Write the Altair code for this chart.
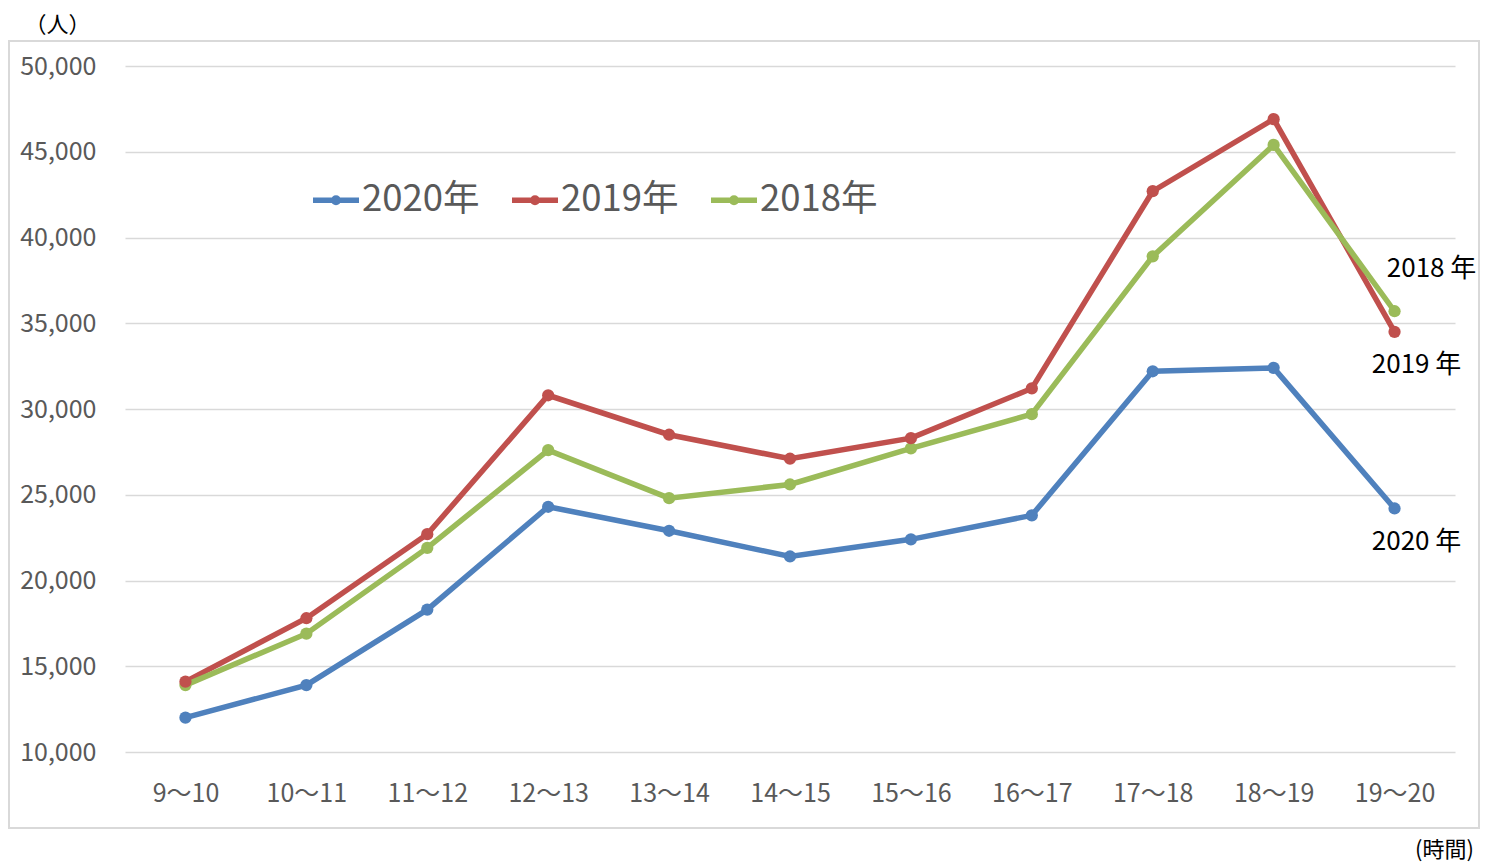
import altair as alt
import pandas as pd

hours = ["9～10", "10～11", "11～12", "12～13", "13～14", "14～15",
         "15～16", "16～17", "17～18", "18～19", "19～20"]
series_names = ["2020年", "2019年", "2018年"]
v2020 = [12000, 13900, 18300, 24300, 22900, 21400, 22400, 23800, 32200, 32400, 24200]
v2019 = [14100, 17800, 22700, 30800, 28500, 27100, 28300, 31200, 42700, 46900, 34500]
v2018 = [13900, 16900, 21900, 27600, 24800, 25600, 27700, 29700, 38900, 45400, 35700]
colors = ["#4F81BD", "#C0504D", "#9BBB59"]
end_labels = ["2020 年", "2019 年", "2018 年"]
y_ticks = [10000, 15000, 20000, 25000, 30000, 35000, 40000, 45000, 50000]

rows = []
for name, vals in zip(series_names, [v2020, v2019, v2018]):
    for h, v in zip(hours, vals):
        rows.append({"hour": h, "series": name, "value": v})
df = pd.DataFrame(rows)

end_df = pd.DataFrame({
    "hour": [hours[-1]] * 3,
    "series": series_names,
    "value": [v2020[-1], v2019[-1], v2018[-1]],
    "label": end_labels,
})

FONT = "Noto Sans CJK JP"

x_scale = alt.Scale(type="point", padding=0.5)
y_scale = alt.Scale(domain=[10000, 50000], nice=False, zero=False)

x_axis = alt.Axis(title="(時間)", titleAngle=0, titleX=1319, titleY=97,
                  titleAlign="center", titleBaseline="middle",
                  titleFont=FONT, titleFontSize=22,
                  titleFontWeight="normal", titleColor="#000000",
                  labelFont=FONT, labelFontSize=25,
                  labelColor="#595959", labelPadding=29, labelAngle=0,
                  domain=False, ticks=False, grid=False)
y_axis = alt.Axis(title="（人）", titleAngle=0, titleX=-68, titleY=-42,
                  titleAlign="center", titleBaseline="middle",
                  titleFont=FONT, titleFontSize=22,
                  titleFontWeight="normal", titleColor="#000000",
                  values=y_ticks, labelExpr="format(datum.value, ',')",
                  labelFont=FONT, labelFontSize=25,
                  labelColor="#595959", labelPadding=29,
                  domain=False, ticks=False, grid=True,
                  gridColor="#D9D9D9", gridWidth=1.3)

x_enc = alt.X("hour:N", sort=hours, scale=x_scale, axis=x_axis)
y_enc = alt.Y("value:Q", scale=y_scale, axis=y_axis)

legend_path = ("M-1,0L1,0 M0.1,0A0.1,0.1 0 1,1 -0.1,0A0.1,0.1 0 1,1 0.1,0")

color_enc = alt.Color("series:N", sort=series_names,
                      scale=alt.Scale(domain=series_names, range=colors),
                      legend=alt.Legend(title=None, orient="none", direction="horizontal",
                                        legendX=185, legendY=108,
                                        symbolType=legend_path, symbolSize=2116,
                                        symbolStrokeWidth=5.5,
                                        labelFont=FONT, labelFontSize=36.5,
                                        labelColor="#595959", labelOffset=0,
                                        columnPadding=21, symbolLimit=0))

frame = alt.Chart(pd.DataFrame({"a": [0]})).mark_rect(
    filled=False, stroke="#D9D9D9", strokeWidth=2, clip=False
).encode(x=alt.value(-116), x2=alt.value(1354), y=alt.value(-25), y2=alt.value(762))

lines = alt.Chart(df).mark_line(
    strokeWidth=5.5, point=alt.OverlayMarkDef(filled=True, size=150)
).encode(x=x_enc, y=y_enc, color=color_enc, order=alt.Order("series:N"))

label_offsets = {"2020年": (22, 34), "2019年": (22, 33), "2018年": (37, -42)}
label_layers = []
for name, lab in zip(series_names, end_labels):
    dx, dy = label_offsets[name]
    label_layers.append(
        alt.Chart(end_df[end_df["series"] == name]).mark_text(
            font=FONT, fontSize=26, color="#000000",
            dx=dx, dy=dy, align="center", baseline="middle"
        ).encode(x=x_enc, y=y_enc, text="label:N")
    )

chart = alt.layer(frame, lines, *label_layers).properties(
    width=1330, height=686,
    background="white",
    autosize=alt.AutoSizeParams(type="none"),
    padding={"left": 117, "top": 58, "right": 25, "bottom": 111},
).configure_view(stroke=None, strokeWidth=0)

chart.save("out.html", embed_options={"renderer": "svg", "actions": False})
